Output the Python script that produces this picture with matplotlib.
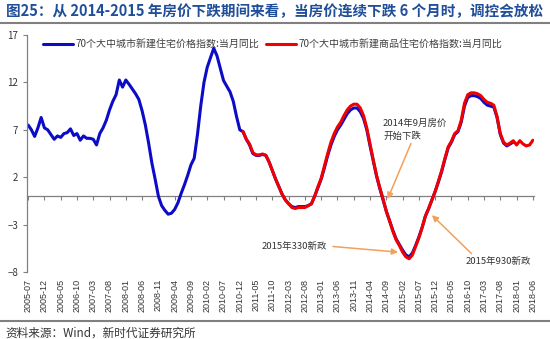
import matplotlib
matplotlib.use("Agg")
import matplotlib.pyplot as plt
import numpy as np
import pandas as pd

plt.rcParams['font.family'] = ['Noto Sans CJK SC', 'DejaVu Sans']

# monthly, 2005-07 .. 2018-06
months = pd.date_range('2005-07-01', '2018-06-01', freq='MS').strftime('%Y-%m').tolist()

# 70个大中城市新建住宅价格指数:当月同比 (2005-07 .. 2017-12)
blue_vals = [
    7.5, 7.0, 6.3, 7.2, 8.3, 7.2, 7.0, 6.5, 6.0, 6.35,
    6.2, 6.6, 6.7, 7.1, 6.4, 6.6, 5.9, 6.35, 6.1, 6.1,
    6.0, 5.4, 6.6, 7.2, 8.0, 9.1, 10.0, 10.7, 12.25, 11.5,
    12.25, 11.8, 11.3, 10.8, 10.2, 9.0, 7.5, 5.6, 3.5, 1.8,
    0.0, -1.0, -1.5, -1.9, -1.8, -1.4, -0.7, 0.3, 1.2, 2.2,
    3.3, 4.0, 6.5, 9.5, 12.0, 13.6, 14.6, 15.6, 14.8, 13.5,
    12.2, 11.6, 11.0, 10.0, 8.4, 7.0, 6.8, 6.0, 5.4, 4.5,
    4.3, 4.3, 4.4, 4.3, 3.6, 2.7, 1.8, 1.0, 0.2, -0.4,
    -0.8, -1.1, -1.2, -1.1, -1.1, -1.1, -1.0, -0.8, 0.0, 0.9,
    1.8, 3.0, 4.3, 5.4, 6.3, 7.0, 7.5, 8.1, 8.7, 9.1,
    9.3, 9.3, 8.9, 8.2, 7.0, 5.3, 3.7, 2.1, 0.8, -0.4,
    -1.6, -2.6, -3.6, -4.5, -5.1, -5.7, -6.2, -6.4, -6.0, -5.2,
    -4.3, -3.3, -2.1, -1.3, -0.4, 0.5, 1.5, 2.6, 3.9, 5.1,
    5.7, 6.5, 6.8, 7.8, 9.5, 10.4, 10.6, 10.6, 10.5, 10.3,
    9.9, 9.6, 9.5, 9.4, 8.3, 6.5, 5.6, 5.3, 5.5, 5.7,
]

# 70个大中城市新建商品住宅价格指数:当月同比 (2011-01 .. 2018-06)
red_start = '2011-01'
red_vals = [
    6.8, 6.0, 5.5, 4.6, 4.35, 4.35, 4.45, 4.3, 3.6, 2.7,
    1.8, 1.0, 0.2, -0.4, -0.8, -1.2, -1.3, -1.2, -1.2, -1.2,
    -1.0, -0.8, 0.0, 1.0, 1.9, 3.2, 4.5, 5.7, 6.6, 7.3,
    7.8, 8.5, 9.1, 9.5, 9.7, 9.7, 9.3, 8.5, 7.2, 5.5,
    3.8, 2.2, 0.9, -0.3, -1.6, -2.6, -3.7, -4.6, -5.2, -5.9,
    -6.4, -6.6, -6.2, -5.3, -4.4, -3.3, -2.1, -1.3, -0.4, 0.5,
    1.6, 2.7, 4.0, 5.2, 5.8, 6.6, 6.9, 8.0, 9.8, 10.7,
    10.9, 10.9, 10.8, 10.6, 10.2, 9.9, 9.8, 9.6, 8.4, 6.6,
    5.7, 5.4, 5.6, 5.85, 5.4, 5.85, 5.5, 5.3, 5.4, 5.9,
]

blue_label = '70个大中城市新建住宅价格指数:当月同比'
red_label = '70个大中城市新建商品住宅价格指数:当月同比'
yticks = [17, 12, 7, 2, -3, -8]
tick_step = 5

title = '图25：从 2014-2015 年房价下跌期间来看，当房价连续下跌 6 个月时，调控会放松'
source = '资料来源：Wind，新时代证券研究所'

x_blue = np.arange(len(blue_vals))
r0 = months.index(red_start)
x_red = np.arange(r0, r0 + len(red_vals))

fig = plt.figure(figsize=(5.5, 3.39), dpi=100)
ax = fig.add_axes([0.0482, 0.1976, 0.9236, 0.6992])

ax.plot(x_blue, blue_vals, color='#0C0CC8', lw=2.2, label=blue_label, solid_capstyle='round')
ax.plot(x_red, red_vals, color='#F00000', lw=2.2, label=red_label, solid_capstyle='round')

ax.set_xlim(-0.5, len(months) - 0.5)
ax.set_ylim(-8, 17)
ax.set_yticks(yticks)
ax.tick_params(axis='y', labelsize=7, length=3, color='#808080', pad=3, labelcolor='#333333')

xt = list(range(0, len(months), tick_step))
ax.set_xticks(xt)
ax.set_xticklabels([months[i] for i in xt], rotation=90, fontsize=6.5,
                   family=['Liberation Sans', 'DejaVu Sans'], color='#333333')
ax.tick_params(axis='x', length=0, pad=5)

for s in ['top', 'right', 'bottom']:
    ax.spines[s].set_visible(False)
ax.spines['left'].set_color('#808080')
ax.spines['left'].set_linewidth(0.9)

# horizontal axis through zero, with tick marks
zero_pos = (0 - (-8)) / (17 - (-8))
sec = ax.secondary_xaxis(zero_pos)
sec.set_xticks(xt)
sec.tick_params(axis='x', labelbottom=False, labeltop=False, length=3,
                color='#808080', direction='out')
sec.spines['bottom'].set_color('#808080')
sec.spines['bottom'].set_linewidth(0.9)

leg = ax.legend(loc='center left', bbox_to_anchor=(0.0325, 0.958), ncol=2, frameon=False,
                fontsize=7.2, handlelength=3.0, handletextpad=0.3, columnspacing=0.6,
                borderpad=0, borderaxespad=0)
for t in leg.get_texts():
    t.set_color('#404040')

arrow_c = '#F2A05A'
ann_kw = dict(fontsize=6.8, color='#333333')
ax.annotate('2014年9月房价\n开始下跌', xy=(110.4, -0.3), xytext=(109, 7.0),
            ha='left', va='center', linespacing=1.5, **ann_kw,
            arrowprops=dict(arrowstyle='-|>', color=arrow_c, lw=1.1, mutation_scale=9,
                            shrinkA=0, shrinkB=0, relpos=(0.45, 0)))
ax.annotate('2015年330新政', xy=(113.6, -5.9), xytext=(71.8, -5.26),
            ha='left', va='center', **ann_kw,
            arrowprops=dict(arrowstyle='-|>', color=arrow_c, lw=1.1, mutation_scale=9,
                            shrinkA=2, shrinkB=0, relpos=(1, 0.5)))
ax.annotate('2015年930新政', xy=(124.0, -2.0), xytext=(134.2, -6.84),
            ha='left', va='center', **ann_kw,
            arrowprops=dict(arrowstyle='-|>', color=arrow_c, lw=1.1, mutation_scale=9,
                            shrinkA=0, shrinkB=0, relpos=(0.1, 1.3)))

fig.text(0.01, 0.968, title, fontsize=10.5, fontweight='bold', color='#1F4E9A',
         ha='left', va='center')
fig.add_artist(plt.Line2D([0, 1], [0.933, 0.933], color='#808080', lw=1.5))
fig.add_artist(plt.Line2D([0, 1], [0.053, 0.053], color='#808080', lw=1.5))
fig.text(0.01, 0.018, source, fontsize=8.4, color='#333333', ha='left', va='center')

fig.savefig('out.png', dpi=100)
